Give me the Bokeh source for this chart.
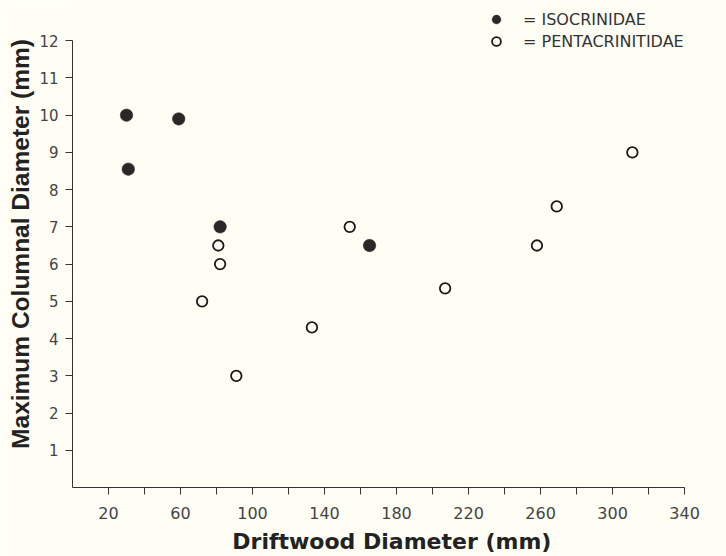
from bokeh.plotting import figure
from bokeh.models import Range1d, FixedTicker, Legend, LegendItem, ColumnDataSource
from bokeh.embed import file_html
from bokeh.resources import INLINE

# Data
iso_x = [30, 59, 31, 82, 165]
iso_y = [10.0, 9.9, 8.55, 7.0, 6.5]
penta_x = [81, 82, 72, 91, 133, 154, 207, 258, 269, 311]
penta_y = [6.5, 6.0, 5.0, 3.0, 4.3, 7.0, 5.35, 6.5, 7.55, 9.0]

x_major = [20, 60, 100, 140, 180, 220, 260, 300, 340]
x_minor = [40, 80, 120, 160, 200, 240, 280, 320]
y_ticks = [1, 2, 3, 4, 5, 6, 7, 8, 9, 10, 11, 12]

BG = "#fefef5"
INK = "#2b2628"

# frame extends past the axis ends (axes are bounded) so the legend can sit at top right
p = figure(width=726, height=556, output_backend="svg", toolbar_location=None,
           x_range=Range1d(0, 363.3), y_range=Range1d(0, 13.08),
           min_border_left=72, min_border_right=0, min_border_top=0, min_border_bottom=66)
p.background_fill_color = BG
p.border_fill_color = BG
p.outline_line_color = None
p.grid.visible = False

iso_src = ColumnDataSource(dict(x=iso_x, y=iso_y))
pen_src = ColumnDataSource(dict(x=penta_x, y=penta_y))

r_iso = p.scatter("x", "y", source=iso_src, size=12.5, fill_color=INK, line_color=INK, line_width=0.5)
r_pen = p.scatter("x", "y", source=pen_src, size=10.5, fill_color=BG, line_color="#1a1a1a", line_width=1.8)

# axes
xa = p.xaxis[0]
xa.bounds = (0, 340)
xa.ticker = FixedTicker(ticks=x_major, minor_ticks=x_minor)
xa.axis_label = "Driftwood Diameter   (mm)"
xa.axis_label_text_font = "DejaVu Sans"
xa.axis_label_text_font_style = "bold"
xa.axis_label_text_font_size = "22px"
xa.axis_label_text_color = "#222222"
xa.axis_label_standoff = 7
xa.major_label_text_font = "DejaVu Sans"
xa.major_label_text_font_size = "16px"
xa.major_label_text_color = "#444444"
xa.major_label_standoff = 12
xa.major_tick_in = 0
xa.major_tick_out = 7
xa.minor_tick_in = 0
xa.minor_tick_out = 7
xa.axis_line_color = "#333333"
xa.major_tick_line_color = "#333333"
xa.minor_tick_line_color = "#333333"

ya = p.yaxis[0]
ya.bounds = (0, 12)
ya.ticker = FixedTicker(ticks=y_ticks, minor_ticks=[])
ya.axis_label = "Maximum Columnal Diameter (mm)"
ya.axis_label_text_font = "Liberation Sans"
ya.axis_label_text_font_style = "bold"
ya.axis_label_text_font_size = "24.5px"
ya.axis_label_text_color = "#222222"
ya.axis_label_standoff = 2
ya.major_label_text_font = "DejaVu Sans"
ya.major_label_text_font_size = "15px"
ya.major_label_text_color = "#444444"
ya.major_label_standoff = 7
ya.major_tick_in = 0
ya.major_tick_out = 7
ya.minor_tick_in = 0
ya.minor_tick_out = 0
ya.axis_line_color = "#333333"
ya.major_tick_line_color = "#333333"

legend = Legend(items=[LegendItem(label="= ISOCRINIDAE", renderers=[r_iso]),
                       LegendItem(label="= PENTACRINITIDAE", renderers=[r_pen])],
                location=(413, 435), orientation="vertical",
                glyph_width=22, glyph_height=22, label_height=22, spacing=0,
                label_standoff=16, padding=0, margin=0,
                border_line_color=None, background_fill_alpha=0,
                label_text_font="DejaVu Sans", label_text_font_size="16px",
                label_text_color="#333333")
p.add_layout(legend, "center")

open("out.html", "w").write(file_html(p, INLINE))
